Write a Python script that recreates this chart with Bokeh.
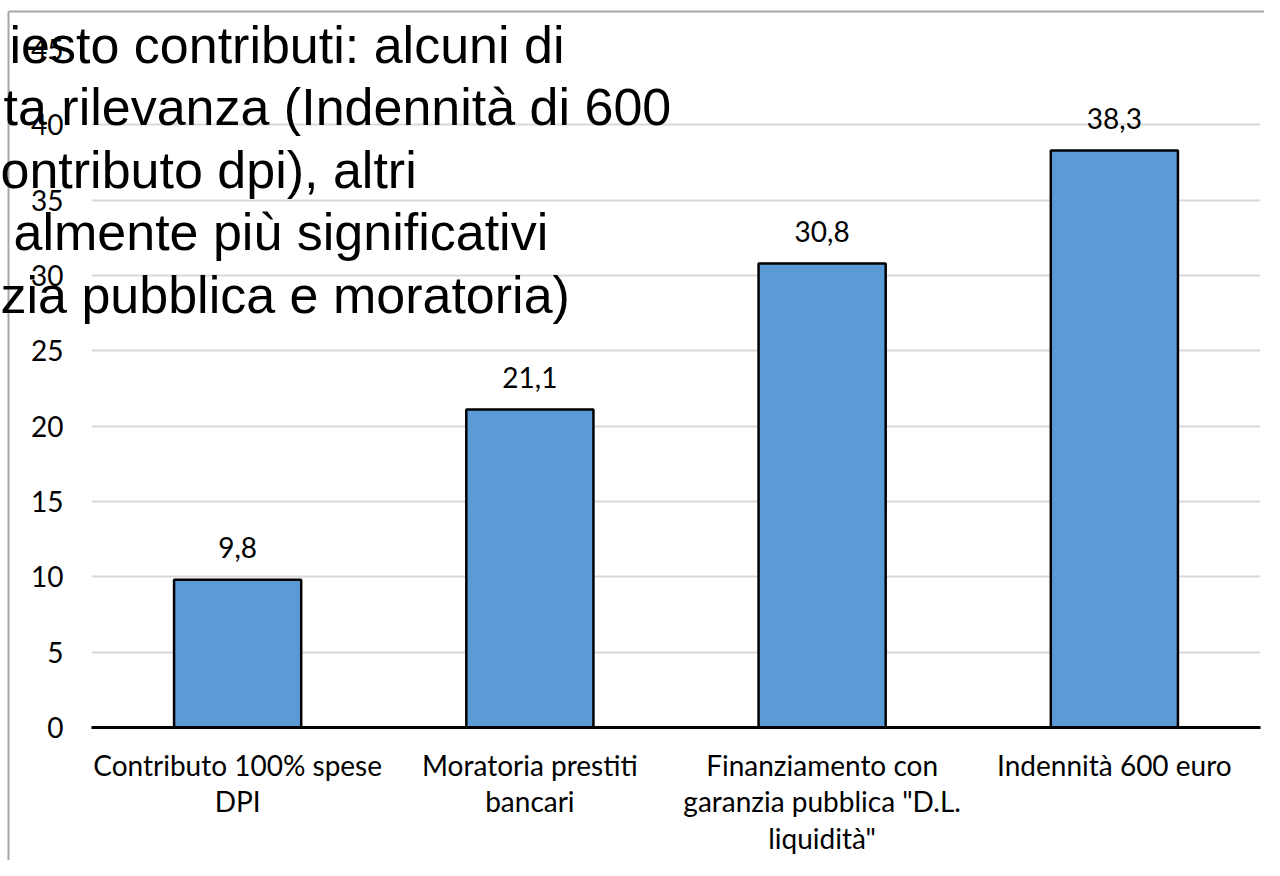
from bokeh.plotting import figure
from bokeh.models import Range1d, FixedTicker, ColumnDataSource
from bokeh.core.properties import value
from bokeh.embed import file_html
from bokeh.resources import INLINE

# ---- data ----
categories = [
    "Contributo 100% spese\nDPI",
    "Moratoria prestiti\nbancari",
    "Finanziamento con\ngaranzia pubblica \"D.L.\nliquidità\"",
    "Indennità 600 euro",
]
values = [9.8, 21.1, 30.8, 38.3]
y_ticks = [0, 5, 10, 15, 20, 25, 30, 35, 40, 45]
title_lines = [
    "iesto contributi: alcuni di",
    "ta rilevanza (Indennità di 600",
    "ontributo dpi), altri",
    "almente più significativi",
    "zia pubblica e moratoria)",
]

# ---- layout constants (canvas pixels) ----
W, H = 1264, 860
FRAME_L, FRAME_R = 91, 1260
FRAME_T, FRAME_B = 49, 727
Y_MAX = 45

p = figure(
    x_range=categories,
    y_range=Range1d(0, Y_MAX),
    width=W, height=H,
    output_backend="svg",
    toolbar_location=None,
    min_border_left=FRAME_L,
    min_border_right=W - FRAME_R,
    min_border_top=FRAME_T,
    min_border_bottom=H - FRAME_B,
)
p.title.visible = False
p.outline_line_color = None
p.background_fill_color = "white"
p.border_fill_color = "white"

# bars
src = ColumnDataSource(dict(
    cat=categories,
    val=values,
    txt=[f"{v:.1f}".replace(".", ",") for v in values],
))
p.vbar(x="cat", top="val", width=0.435, source=src,
       fill_color="#5B9BD5", line_color="black", line_width=2.5)

# value labels
p.text(x="cat", y="val", text="txt", source=src,
       text_align="center", text_baseline="alphabetic",
       y_offset=-32, text_font=value("Lato"), text_font_size="28px",
       text_color="#000000")

# grid
p.xgrid.grid_line_color = None
p.ygrid.grid_line_color = "#D9D9D9"
p.ygrid.grid_line_width = 2
p.yaxis.ticker = FixedTicker(ticks=y_ticks)

# y axis
p.yaxis.axis_line_color = None
p.yaxis.major_tick_line_color = None
p.yaxis.minor_tick_line_color = None
p.yaxis.major_tick_out = 0
p.yaxis.major_label_standoff = 28
p.yaxis.major_label_text_font = "Lato"
p.yaxis.major_label_text_font_size = "28px"
p.yaxis.major_label_text_color = "#000000"

# x axis
p.xaxis.axis_line_color = "black"
p.xaxis.axis_line_width = 3
p.xaxis.major_tick_line_color = None
p.xaxis.major_tick_out = 0
p.xaxis.major_label_standoff = 20
p.xaxis.major_label_text_font = "Lato"
p.xaxis.major_label_text_font_size = "28px"
p.xaxis.major_label_text_line_height = 1.08
p.xaxis.major_label_text_color = "#000000"

# helpers: canvas px -> data coordinates
cat_w = (FRAME_R - FRAME_L) / len(categories)
px_per_unit = (FRAME_B - FRAME_T) / Y_MAX
def dx(px):
    return (px - FRAME_L) / cat_w
def dy(py):
    return (FRAME_B - py) / px_per_unit

# slide frame (gray border)
p.segment(x0=[dx(8), dx(8)], y0=[dy(11), dy(11)],
          x1=[dx(1400), dx(8)], y1=[dy(11), dy(1400)],
          line_color="#A6A6A6", line_width=2, level="overlay")

# overlapping title text (cut off on the left in the reference)
title_x = [9, 3, 0, 13, 0]
title_base = [44, 106.5, 169, 231.5, 294]
p.text(x=[dx(v) for v in title_x], y=[dy(v) for v in title_base], text=title_lines,
       text_font=value("Liberation Sans"), text_font_size="52px",
       text_color="black", text_align="left", text_baseline="alphabetic",
       level="overlay")

open("out.html", "w").write(file_html(p, INLINE))
